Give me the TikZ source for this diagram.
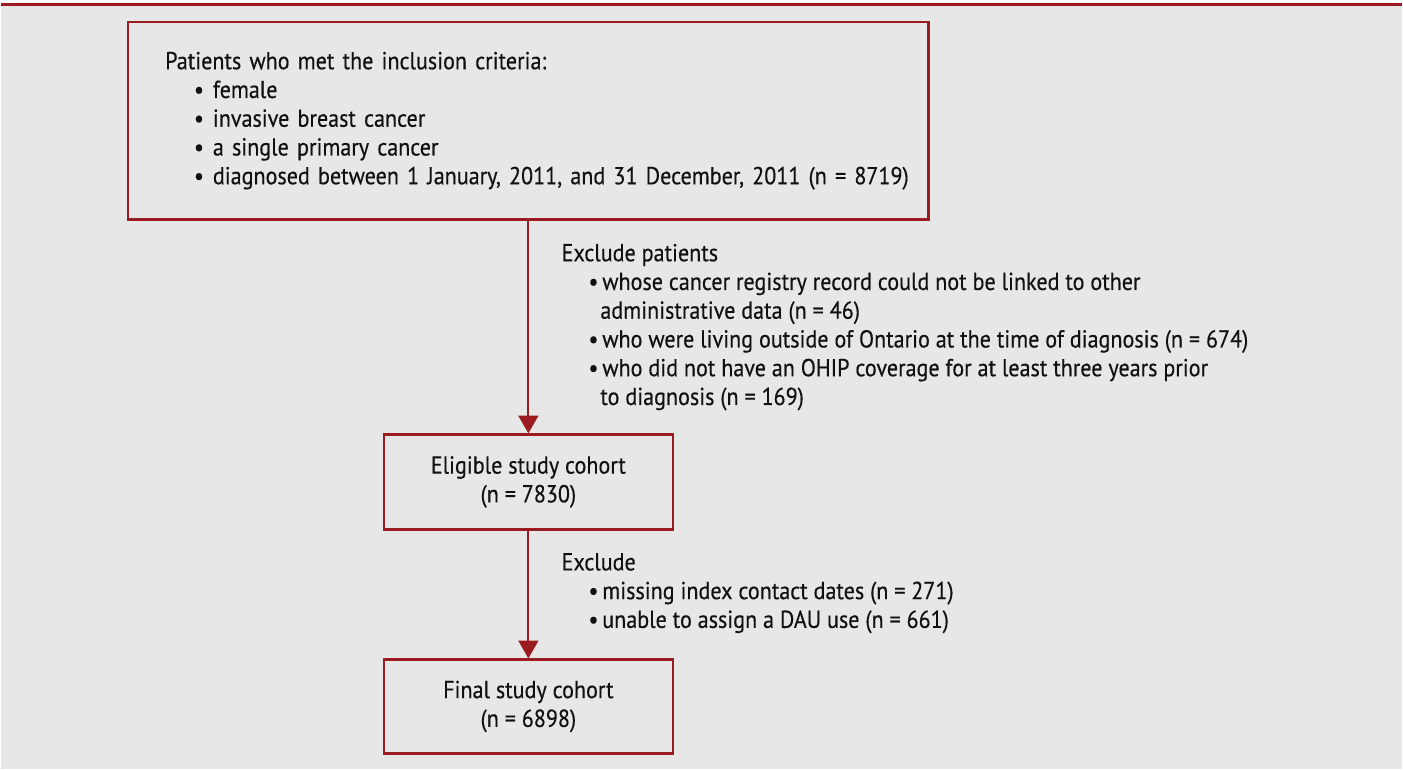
\documentclass[tikz,border=0pt]{standalone}
\usepackage{fontspec}
\setmainfont[FakeStretch=0.9, FakeBold=0.35]{PT Sans}
\usetikzlibrary{arrows.meta}
\definecolor{darkred}{HTML}{9A1C20}
\definecolor{panel}{HTML}{E6E7E6}
\definecolor{ink}{HTML}{111111}
\newcommand{\incitem}{\\\hspace*{16.4pt}\makebox[10.8pt][l]{\textbullet}}
\newcommand{\excitem}{\\\hspace*{15.3pt}\makebox[7.9pt][l]{\textbullet}}
\newcommand{\excmore}{\\\hspace*{22.1pt}}
\tikzset{
  flowbox/.style={draw=darkred, line width=1.3pt, text=ink, inner sep=0pt,
    font=\fontsize{14}{16.4}\selectfont},
  note/.style={text=ink, inner sep=0pt, anchor=north west, align=left,
    font=\fontsize{14}{16.4}\selectfont},
  flowarrow/.style={draw=darkred, line width=1.2pt,
    -{Triangle[width=11.3pt, length=10.2pt]}}
}
\begin{document}
\begin{tikzpicture}[x=0.02cm, y=-0.02cm]
  % page
  \fill[panel] (0,0) rectangle (1403,771);
  \fill[white] (0,0) rectangle (1403,3.5);
  \draw[darkred, line width=0.06cm] (0,5) -- (1403,5);
  \useasboundingbox (0,0) rectangle (1403,771);
  % boxes
  \draw
    (528,121) node[flowbox, minimum width=16.04cm, minimum height=3.96cm,
      text width=14.56cm, align=left] (incl)
      {Patients who met the inclusion criteria:\incitem female\incitem invasive breast cancer\incitem a single primary cancer\incitem \makebox[0pt][l]{diagnosed between 1 January, 2011, and 31 December, 2011 (n = 8719)}}
    (528,483) node[flowbox, minimum width=5.8cm, minimum height=1.9cm,
      align=center] (elig) {Eligible study cohort\\(n = 7830)}
    (528,708) node[flowbox, minimum width=5.8cm, minimum height=1.88cm,
      align=center] (final) {Final study cohort\\(n = 6898)};
  % exclusions
  \node[note] (excl1) at (561,244)
    {Exclude patients\excitem whose cancer registry record could not be linked to other\excmore administrative data (n = 46)\excitem who were living outside of Ontario at the time of diagnosis (n = 674)\excitem who did not have an OHIP coverage for at least three years prior\excmore to diagnosis (n = 169)};
  \node[note] (excl2) at (561,554)
    {Exclude\excitem missing index contact dates (n = 271)\excitem unable to assign a DAU use (n = 661)};
  \begin{scope}[flowarrow]
    \draw (incl) -- (elig);
    \draw (elig) -- (final);
  \end{scope}
\end{tikzpicture}
\end{document}
